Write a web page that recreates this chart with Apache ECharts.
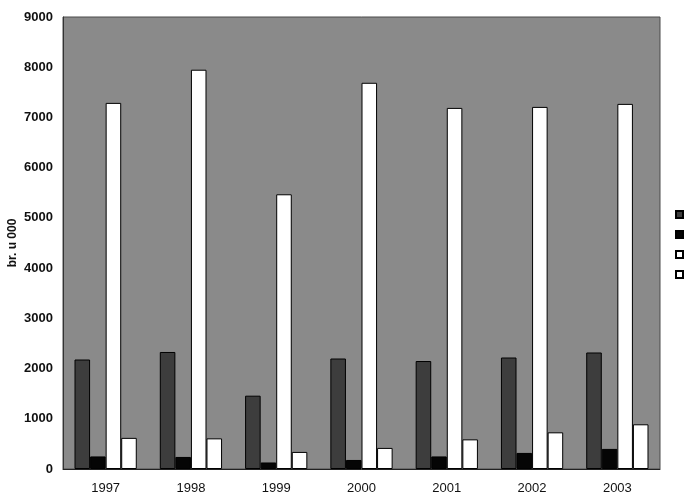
<!DOCTYPE html>
<html><head><meta charset="utf-8">
<script src="https://cdn.jsdelivr.net/npm/echarts@6/dist/echarts.min.js"></script>
<style>html,body{margin:0;padding:0;background:#fff}#c{width:687px;height:502px}</style>
</head><body><div id="c"></div>
<script>
const categories = ['1997','1998','1999','2000','2001','2002','2003'];
const seriesNames = ['Serija 1','Serija 2','Serija 3','Serija 4'];
const s1 = [2180, 2330, 1460, 2200, 2150, 2220, 2320];
const s2 = [250, 240, 130, 180, 250, 320, 400];
const s3 = [7290, 7950, 5470, 7690, 7190, 7210, 7270];
const s4 = [620, 610, 340, 420, 590, 730, 890];
const yTicks = {min: 0, max: 9000, interval: 1000};
const yName = 'br. u 000';

const chart = echarts.init(document.getElementById('c'));
const fills = ['#3d3d3d', '#050505', '#ffffff', '#ffffff'];
const data = [s1, s2, s3, s4];
chart.setOption({
  animation: false,
  textStyle: {fontFamily: 'Liberation Sans, Arial, sans-serif'},
  grid: {left: 63, top: 17, right: 27, bottom: 33, containLabel: false, outerBoundsMode: 'none',
    show: true, backgroundColor: '#8a8a8a', borderColor: '#4a4a4a', borderWidth: 1},
  legend: {
    orient: 'vertical', left: 675, top: 210, padding: 0, itemWidth: 7, itemHeight: 7, itemGap: 11,
    icon: 'rect',
    textStyle: {fontSize: 8, lineHeight: 8, color: '#000'},
    data: seriesNames
  },
  xAxis: {
    type: 'category', data: categories,
    axisLine: {show: true, lineStyle: {color: '#222', width: 1}},
    axisTick: {show: false},
    axisLabel: {color: '#111', fontSize: 13, margin: 13}
  },
  yAxis: {
    type: 'value', min: yTicks.min, max: yTicks.max, interval: yTicks.interval,
    name: yName, nameLocation: 'middle', nameGap: 44, nameRotate: 90, nameMoveOverlap: false,
    nameTextStyle: {fontWeight: 'bold', fontSize: 12, color: '#111'},
    axisLine: {show: true, lineStyle: {color: '#333'}},
    axisTick: {show: false},
    splitLine: {show: false},
    axisLabel: {color: '#111', fontSize: 13, fontWeight: 'bold', margin: 10, formatter: v => String(v)}
  },
  series: data.map((d, i) => ({
    name: seriesNames[i], type: 'bar', data: d,
    barGap: '0%', barCategoryGap: '27%',
    itemStyle: {color: fills[i], borderColor: '#000', borderWidth: 1}
  }))
});
</script></body></html>
